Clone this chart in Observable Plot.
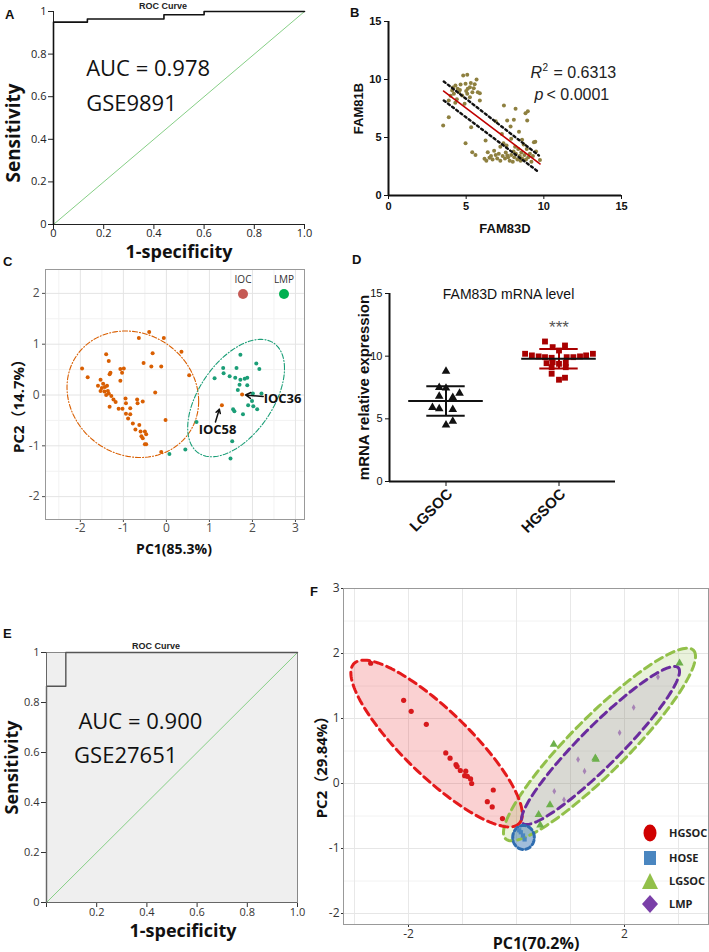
<!DOCTYPE html>
<html><head><meta charset="utf-8">
<script src="https://cdn.jsdelivr.net/npm/d3@7"></script>
<script src="https://cdn.jsdelivr.net/npm/@observablehq/plot@0.6"></script>
<style>
body{margin:0;background:#fff;}
#root{position:relative;width:709px;height:952px;overflow:hidden;background:#fff;font-family:"Liberation Sans",Arial,sans-serif;}
.panel{position:absolute;}
.panel svg{overflow:visible;}
.letter{position:absolute;font:bold 13px "Liberation Sans",Arial,sans-serif;line-height:13px;color:#111;}
.lg{position:absolute;white-space:nowrap;}
</style></head><body><div id="root"></div>
<script>
// ---------------- DATA ----------------
// Panel A (ROC, GSE9891)
const rocA_fpr = [0, 0, 0.135, 0.44, 0.6, 1];
const rocA_tpr = [0, 0.95, 0.965, 0.985, 1, 1];
const diagLine = [0, 1];
const rocTicks = [0, 0.2, 0.4, 0.6, 0.8, 1];
const aucA_text = ["AUC = 0.978", "GSE9891"];
const aucA_x = [0.13, 0.13];
const aucA_y = [0.695, 0.535];

// Panel B (FAM83D vs FAM81B)
const bTicks = [0, 5, 10, 15];
const bPoints = [
 [4.81,10.34],[5.07,10.4],[5.67,10.0],[4.31,9.48],[4.64,9.57],[4.96,9.63],[5.24,9.34],[5.49,9.25],[5.75,8.9],[5.88,8.82],
 [4.1,9.05],[4.21,8.77],[4.53,8.9],[4.74,8.62],[5.07,8.77],[5.24,8.47],[5.88,8.19],[3.88,8.19],[4.0,8.6],[4.4,8.3],
 [4.6,9.1],[5.1,9.2],[5.4,8.9],[4.3,8.0],[4.9,7.9],[5.0,9.0],[4.15,9.3],[5.55,9.6],[4.45,9.2],[5.3,9.7],
 [3.52,6.03],[3.88,6.75],[4.96,4.51],[5.39,3.73],[5.6,3.5],[5.32,5.89],[6.25,4.74],
 [7.43,7.76],[8.18,7.47],[8.82,7.1],[8.97,7.27],[7.64,6.47],[8.07,6.52],[8.93,6.47],[7.86,5.95],[6.9,6.4],
 [7.3,5.3],[8.4,5.5],[9.36,4.6],[9.45,4.64],[7.2,4.2],[8.6,4.8],[7.9,4.9],
 [6.18,3.16],[6.39,3.73],[6.3,3.0],[6.6,3.4],[6.7,3.1],[6.9,3.5],[7.0,3.2],[7.1,3.6],[7.2,3.0],[7.35,3.4],
 [7.5,3.2],[7.55,3.7],[7.6,4.3],[7.7,3.3],[7.8,3.0],[7.9,3.5],[8.0,2.9],[8.05,3.8],[8.1,3.3],[8.2,3.6],
 [8.3,3.1],[8.35,4.0],[8.45,3.4],[8.5,3.0],[8.55,3.7],[8.6,3.2],[8.7,4.4],[8.75,3.5],[8.85,3.1],[8.9,4.0],
 [9.0,3.3],[9.1,3.6],[9.2,2.9],[9.3,3.4],[9.75,3.07],[9.5,3.8],[6.8,3.85],[7.4,4.5],[8.15,4.2],[6.5,3.25],[7.65,3.45]
];
const bFitX = [3.55, 9.75];
const bFitY = [9.0, 2.72];
const bCiUpperY = [9.83, 3.45];
const bCiLowerY = [8.19, 2.01];
const bCiX = [3.56, 9.68];

// Panel C (PCA IOC vs LMP)
const cTicksX = [-2, -1, 0, 1, 2, 3];
const cTicksY = [-2, -1, 0, 1, 2];
const cMinorX = [-2.5, -1.5, -0.5, 0.5, 1.5, 2.5];
const cMinorY = [-1.5, -0.5, 0.5, 1.5];
const cIOC = [
 [-1.96,0.52],[-1.83,0.35],[-1.40,0.80],[-1.34,0.67],[-1.53,0.30],[-1.59,0.18],[-1.50,0.14],[-1.43,0.16],[-1.38,0.18],
 [-1.53,0.08],[-1.44,0.07],[-1.36,0.08],[-1.40,0.0],[-1.34,0.03],[-1.32,0.41],[-1.30,0.44],[-1.28,-0.02],[-1.23,-0.09],
 [-1.32,-0.23],[-1.07,0.51],[-0.99,0.52],[-1.03,0.44],[-1.07,0.28],[-0.95,-0.07],[-0.94,-0.16],[-1.11,-0.27],[-1.02,-0.27],
 [-0.84,-0.26],[-0.68,-0.09],[-0.67,-0.16],[-0.55,-0.13],[-0.94,-0.37],[-0.84,-0.38],[-0.89,-0.46],[-0.78,-0.56],
 [-0.63,-0.59],[-0.72,-0.68],[-0.60,-0.72],[-0.50,-0.72],[-0.58,-0.81],[-0.47,-0.77],[-0.50,-0.97],[-0.47,-0.97],
 [-0.02,-0.49],[-0.26,0.05],[-0.53,0.63],[-0.35,0.56],[-0.12,0.56],[-0.32,0.82],[-0.64,1.12],[-0.40,1.24],[-0.06,1.12],
 [0.35,0.85],[0.53,0.39],[-0.12,-1.12],[1.76,0.01],[1.29,-0.20],[-1.47,0.22],[-1.18,-0.14],[-0.55,-0.85]
];
const cLMP = [
 [1.72,0.79],[2.09,0.62],[2.16,0.51],[1.32,0.53],[1.63,0.53],[1.33,0.43],[1.47,0.37],[1.12,0.33],[1.60,0.34],[1.72,0.30],
 [1.82,0.32],[1.88,0.34],[1.70,0.20],[1.88,0.19],[1.66,0.10],[2.01,0.03],[2.21,0.03],[1.99,-0.12],[1.90,-0.20],[2.02,-0.22],
 [2.11,-0.28],[1.55,-0.28],[1.58,-0.32],[1.78,-0.38],[1.53,-0.91],[1.49,-1.25],[0.70,-0.53],[0.44,-1.07],[0.07,-1.16]
];
const cEllipses = [
 {group:"IOC", cx:-0.78, cy:0.015, ux:1.53, uy:-0.137, vx:0, vy:1.237},
 {group:"LMP", cx:1.62, cy:-0.06, ux:1.125, uy:0.585, vx:0, vy:0.996}
];
const cArrows = [
 {label:"IOC36", x1:2.25, y1:-0.03, x2:1.84, y2:0.0, tx:2.26, ty:-0.085},
 {label:"IOC58", x1:1.14, y1:-0.53, x2:1.23, y2:-0.28, tx:0.75, ty:-0.68}
];
const cLegend = ["IOC", "LMP"];
const cLegendColors = ["#C55A55", "#00B050"];

// Panel D (FAM83D mRNA level)
const dGroups = ["LGSOC", "HGSOC"];
const lgsocVals = [8.8, 7.5, 7.45, 7.05, 6.8, 6.7, 5.9, 5.8, 5.75, 4.8, 4.5];
const lgsocJit  = [0, -0.06, 0, 0.12, -0.06, 0.06, -0.12, -0.06, 0.06, 0.06, 0];
const hgsocVals = [11.17,10.72,10.85,10.45,10.19,10.06,9.98,9.92,9.87,9.92,9.92,9.98,10.06,10.19,9.44,9.52,9.39,9.47,9.12,9.12,8.6,8.12,8.28];
const hgsocJit  = [-0.124,-0.056,0.053,0,-0.30,-0.24,-0.18,-0.124,-0.065,0.068,0.127,0.186,0.24,0.30,-0.11,-0.056,0,0.06,-0.065,0.06,-0.065,0,0.053];
const dMean = [6.42, 9.8];
const dSD = [1.17, 0.78];
const dTicks = [0, 5, 10, 15];
const dSignif = ["***"];
const dSignifY = [12.3];

// Panel E (ROC, GSE27651)
const rocE_fpr = [0, 0, 0.077, 1];
const rocE_tpr = [0, 0.865, 1, 1];
const aucE_text = ["AUC = 0.900", "GSE27651"];
const aucE_x = [0.127, 0.11];
const aucE_y = [0.696, 0.56];

// Panel F (PCA four groups)
const fTicksX = [-2, 2];
const fGridX = [-3, -2, -1, 0, 1, 2, 3];
const fTicksY = [-2, -1, 0, 1, 2, 3];
const fMinorY = [-1.5, -0.5, 0.5, 1.5, 2.5];
const fHGSOC = [[-2.70,1.85],[-2.09,1.28],[-1.95,1.11],[-1.67,0.91],[-1.31,0.47],[-1.23,0.39],[-1.12,0.29],[-1.10,0.26],
 [-1.04,0.20],[-0.94,0.19],[-0.96,0.12],[-0.91,0.11],[-0.85,0.07],[-0.83,0.0],[-0.43,-0.10],[-0.54,-0.28],[-0.45,-0.36],[-0.26,-0.54]];
const fHOSE = [[0.08,-0.75],[0.12,-0.80],[0.05,-0.72],[0.15,-0.86]];
const fLGSOC = [[3.02,1.85],[0.69,0.60],[1.46,0.39],[1.47,0.37],[0.62,-0.33],[0.41,-0.48],[0.44,-0.64]];
const fLMP = [[2.62,1.64],[2.17,1.17],[1.91,0.78],[1.14,0.37],[1.26,0.19],[0.70,-0.12],[0.88,-0.25]];
const fEllipses = [
 {group:"HGSOC", cx:-1.48, cy:0.615, ux:1.53, uy:-1.23, vx:0.425, vy:0.365},
 {group:"LGSOC", cx:1.537, cy:0.6, ux:1.74, uy:1.45, vx:0.367, vy:-0.305},
 {group:"LMP",   cx:1.556, cy:0.585, ux:1.44, uy:1.197, vx:0.262, vy:-0.218},
 {group:"HOSE",  cx:0.13, cy:-0.83, ux:0.2, uy:0, vx:0, vy:0.185}
];
const fGroups = ["HGSOC", "HOSE", "LGSOC", "LMP"];
const fColors = {HGSOC:"#E41A1C", HOSE:"#2F6DB0", LGSOC:"#92C04A", LMP:"#6A2C9E"};

// ---------------- HELPERS ----------------
const root = document.getElementById("root");
function place(el, left, top){ const d=document.createElement("div"); d.className="panel"; d.style.left=left+"px"; d.style.top=top+"px"; d.appendChild(el); root.appendChild(d); }
function letter(t, left, top){ const d=document.createElement("div"); d.className="letter"; d.textContent=t; d.style.left=left+"px"; d.style.top=top+"px"; root.appendChild(d); }
function ellipsePts(e, n=160){ const p=[]; for(let i=0;i<=n;i++){ const t=2*Math.PI*i/n; p.push({x:e.cx+Math.cos(t)*e.ux+Math.sin(t)*e.vx, y:e.cy+Math.cos(t)*e.uy+Math.sin(t)*e.vy}); } return p; }
const fontCal = "'Open Sans','Noto Sans','Noto Sans CJK SC',sans-serif";
const fontAr = "'Liberation Sans',Arial,sans-serif";
const T = d => d;

// ---------------- PANEL A ----------------
const A = Plot.plot({
  width:320, height:262, marginLeft:53, marginRight:16, marginTop:11, marginBottom:38,
  style:{background:"transparent", overflow:"visible", fontFamily:fontCal, fontSize:"11px", color:"#222"},
  x:{domain:[0,1], ticks:rocTicks, tickFormat:d=>d===0?"0":d===1?"1.0":String(d), tickSize:5, tickPadding:0, label:null},
  y:{domain:[0,1], ticks:rocTicks, tickFormat:d=>String(d), tickSize:5, tickPadding:2, label:null},
  marks:[
    Plot.ruleX([0],{stroke:"#222"}), Plot.ruleY([0],{stroke:"#222"}),
    Plot.line(diagLine,{x:T, y:T, stroke:"#86CF86", strokeWidth:1}),
    Plot.line(rocA_fpr,{x:T, y:(d,i)=>rocA_tpr[i], curve:"step-after", stroke:"#111", strokeWidth:1.6}),
    Plot.text(aucA_text,{x:(d,i)=>aucA_x[i], y:(d,i)=>aucA_y[i], text:T, textAnchor:"start", lineAnchor:"bottom", fontSize:22, fill:"#111"}),
    Plot.text(["ROC Curve"],{frameAnchor:"top", dx:-16, dy:-3, text:T, textAnchor:"middle", lineAnchor:"bottom", fontSize:9, fontWeight:"bold", fontFamily:fontAr, fill:"#222"}),
    Plot.text(["Sensitivity"],{frameAnchor:"left", dx:-40, dy:15, rotate:-90, text:T, textAnchor:"middle", lineAnchor:"middle", fontSize:19, fontWeight:"bold", fill:"#111"}),
    Plot.text(["1-specificity"],{frameAnchor:"bottom", dy:33, text:T, textAnchor:"middle", lineAnchor:"bottom", fontSize:18, fontWeight:"bold", fill:"#111"})
  ]
});
place(A, 0, 0);

// ---------------- PANEL B ----------------
const B = Plot.plot({
  width:379, height:245, marginLeft:58, marginRight:88, marginTop:21, marginBottom:50,
  style:{background:"transparent", overflow:"visible", fontFamily:fontAr, fontSize:"11px", fontWeight:"bold", color:"#111"},
  x:{domain:[0,15], ticks:bTicks, tickSize:4, tickPadding:3, label:null},
  y:{domain:[0,15], ticks:bTicks, tickSize:4, tickPadding:3, label:null},
  marks:[
    Plot.ruleX([0],{stroke:"#111", strokeWidth:2}), Plot.ruleY([0],{stroke:"#111", strokeWidth:2}),
    Plot.dot(bPoints,{x:d=>d[0], y:d=>d[1], r:2, fill:"#8E8040", stroke:"none"}),
    Plot.line(bCiX,{x:T, y:(d,i)=>bCiUpperY[i], stroke:"#111", strokeWidth:2.4, strokeDasharray:"2.2,3"}),
    Plot.line(bCiX,{x:T, y:(d,i)=>bCiLowerY[i], stroke:"#111", strokeWidth:2.4, strokeDasharray:"2.2,3"}),
    Plot.line(bFitX,{x:T, y:(d,i)=>bFitY[i], stroke:"#C00000", strokeWidth:1.6}),
    Plot.text(["R"],{x:[9.14], y:[10.17], text:T, textAnchor:"start", lineAnchor:"bottom", fontSize:16, fontStyle:"italic", fontWeight:"normal", fill:"#222"}),
    Plot.text(["2"],{x:[9.14], y:[10.17], dx:12, dy:-7, text:T, textAnchor:"start", lineAnchor:"bottom", fontSize:10, fontWeight:"normal", fill:"#222"}),
    Plot.text(["= 0.6313"],{x:[9.14], y:[10.17], dx:23, text:T, textAnchor:"start", lineAnchor:"bottom", fontSize:16, fontWeight:"normal", fill:"#222"}),
    Plot.text(["p"],{x:[9.40], y:[8.19], text:T, textAnchor:"start", lineAnchor:"bottom", fontSize:16, fontStyle:"italic", fontWeight:"normal", fill:"#222"}),
    Plot.text(["< 0.0001"],{x:[9.40], y:[8.19], dx:12, text:T, textAnchor:"start", lineAnchor:"bottom", fontSize:16, fontWeight:"normal", fill:"#222"}),
    Plot.text(["FAM83D"],{frameAnchor:"bottom", dy:37, text:T, textAnchor:"middle", lineAnchor:"bottom", fontSize:13, fontWeight:"bold"}),
    Plot.text(["FAM81B"],{frameAnchor:"left", dx:-30, rotate:-90, text:T, textAnchor:"middle", lineAnchor:"middle", fontSize:13, fontWeight:"bold"})
  ]
});
place(B, 330, 0);

// ---------------- PANEL C ----------------
const cEll = cEllipses.map(e => ({group:e.group, pts:ellipsePts(e)}));
const C = Plot.plot({
  width:320, height:300, marginLeft:45, marginRight:16, marginTop:9, marginBottom:41,
  style:{background:"transparent", overflow:"visible", fontFamily:fontCal, fontSize:"12px", color:"#4d4d4d"},
  x:{domain:[-2.81,3.21], ticks:cTicksX, tickFormat:d=>String(d), tickSize:3, tickPadding:1, label:null},
  y:{domain:[-2.45,2.47], ticks:cTicksY, tickFormat:d=>String(d), tickSize:3, tickPadding:3, label:null},
  marks:[
    Plot.ruleX(cMinorX,{stroke:"#f2f2f2"}), Plot.ruleY(cMinorY,{stroke:"#f2f2f2"}),
    Plot.ruleX(cTicksX,{stroke:"#e4e4e4"}), Plot.ruleY(cTicksY,{stroke:"#e4e4e4"}),
    Plot.frame({stroke:"#999"}),
    Plot.line(cEll[0].pts,{x:"x", y:"y", stroke:"#D95F02", strokeWidth:1.1, strokeDasharray:"5,2,1,2"}),
    Plot.line(cEll[1].pts,{x:"x", y:"y", stroke:"#1B9E77", strokeWidth:1.1, strokeDasharray:"5,2,1,2"}),
    Plot.dot(cIOC,{x:d=>d[0], y:d=>d[1], r:2, fill:"#D95F02", stroke:"none"}),
    Plot.dot(cLMP,{x:d=>d[0], y:d=>d[1], r:2, fill:"#1B9E77", stroke:"none"}),
    Plot.arrow(cArrows,{x1:"x1", y1:"y1", x2:"x2", y2:"y2", stroke:"#111", strokeWidth:1.5, headLength:7}),
    Plot.text(cArrows,{x:"tx", y:"ty", text:"label", textAnchor:"start", lineAnchor:"middle", fontSize:13, fontWeight:"bold", fill:"#111"}),
    Plot.text(["PC2\uFF0814.7%\uFF09"],{frameAnchor:"left", dx:-26, dy:8, rotate:-90, text:T, textAnchor:"middle", lineAnchor:"middle", fontSize:15, fontWeight:"bold", fill:"#111"}),
    Plot.text(["PC1(85.3%)"],{frameAnchor:"bottom", dx:-1, dy:34, text:T, textAnchor:"middle", lineAnchor:"bottom", fontSize:14, fontWeight:"bold", fill:"#111"})
  ]
});
place(C, 0, 260);
// C legend
cLegend.forEach((g,i)=>{
  const cx = [243, 284][i];
  const t=document.createElement("div"); t.className="lg"; t.textContent=g;
  t.style.cssText += `left:${cx-20}px;top:272px;width:40px;text-align:center;font:10px ${fontCal};color:#333;`;
  root.appendChild(t);
  const c=document.createElement("div"); c.className="lg";
  c.style.cssText += `left:${cx-5}px;top:289px;width:10px;height:10px;border-radius:50%;background:${cLegendColors[i]};`;
  root.appendChild(c);
});

// ---------------- PANEL D ----------------
const capW = 0.17, meanW = 0.33;
const D = Plot.plot({
  width:379, height:300, marginLeft:59, marginRight:94, marginTop:43, marginBottom:69,
  style:{background:"transparent", overflow:"visible", fontFamily:fontAr, fontSize:"11px", color:"#111"},
  x:{domain:[0.5,2.5], ticks:[1,2], tickFormat:()=>"", tickSize:5, label:null},
  y:{domain:[0,15], ticks:dTicks, tickSize:4, tickPadding:3, label:null},
  marks:[
    Plot.ruleX([0.5],{stroke:"#111", strokeWidth:2}), Plot.ruleY([0],{stroke:"#111", strokeWidth:2}),
    Plot.dot(lgsocVals,{x:(d,i)=>1+lgsocJit[i], y:T, symbol:"triangle", r:3.2, fill:"#111", stroke:"none"}),
    Plot.dot(hgsocVals,{x:(d,i)=>2+hgsocJit[i], y:T, symbol:"square", r:3.3, fill:"#A80000", stroke:"none"}),
    Plot.ruleX([1],{y1:dMean[0]-dSD[0], y2:dMean[0]+dSD[0], stroke:"#111", strokeWidth:2}),
    Plot.ruleY([dMean[0]-dSD[0], dMean[0]+dSD[0]],{x1:1-capW, x2:1+capW, stroke:"#111", strokeWidth:2}),
    Plot.ruleY([dMean[0]],{x1:1-meanW, x2:1+meanW, stroke:"#111", strokeWidth:2}),
    Plot.ruleX([2],{y1:dMean[1]-dSD[1], y2:dMean[1]+dSD[1], stroke:"#A80000", strokeWidth:2}),
    Plot.ruleY([dMean[1]-dSD[1], dMean[1]+dSD[1]],{x1:2-capW, x2:2+capW, stroke:"#A80000", strokeWidth:2}),
    Plot.ruleY([dMean[1]],{x1:2-meanW, x2:2+meanW, stroke:"#111", strokeWidth:2}),
    Plot.text(dSignif,{x:[2], y:dSignifY, text:T, fontSize:17, fill:"#555", lineAnchor:"middle"}),
    Plot.text(dGroups,{x:(d,i)=>i+1, frameAnchor:"bottom", dx:4, dy:10, rotate:-45, text:T, textAnchor:"end", lineAnchor:"middle", fontSize:15, fontWeight:"bold"}),
    Plot.text(["FAM83D mRNA level"],{frameAnchor:"top", dx:6, dy:5, text:T, textAnchor:"middle", lineAnchor:"bottom", fontSize:14}),
    Plot.text(["mRNA relative expression"],{frameAnchor:"left", dx:-25, rotate:-90, text:T, textAnchor:"middle", lineAnchor:"middle", fontSize:15, fontWeight:"bold"})
  ]
});
place(D, 330, 250);

// ---------------- PANEL E ----------------
const E = Plot.plot({
  width:320, height:352, marginLeft:46, marginRight:23, marginTop:52, marginBottom:50,
  style:{background:"transparent", overflow:"visible", fontFamily:fontCal, fontSize:"11px", color:"#333"},
  x:{domain:[0,1], ticks:rocTicks, tickFormat:d=>d===0?"":d===1?"1.0":String(d), tickSize:5, tickPadding:1, label:null},
  y:{domain:[0,1], ticks:rocTicks, tickFormat:d=>String(d), tickSize:5, tickPadding:2, label:null},
  marks:[
    Plot.frame({fill:"#EFEFEF", stroke:"#888"}),
    Plot.line(diagLine,{x:T, y:T, stroke:"#86CF86", strokeWidth:1}),
    Plot.line(rocE_fpr,{x:T, y:(d,i)=>rocE_tpr[i], curve:"step-after", stroke:"#555", strokeWidth:1.4}),
    Plot.ruleX([0],{stroke:"#666"}), Plot.ruleY([0],{stroke:"#666"}),
    Plot.text(aucE_text,{x:(d,i)=>aucE_x[i], y:(d,i)=>aucE_y[i], text:T, textAnchor:"start", lineAnchor:"bottom", fontSize:22, fill:"#111"}),
    Plot.text(["ROC Curve"],{frameAnchor:"top", dx:-16, dy:-4, text:T, textAnchor:"middle", lineAnchor:"bottom", fontSize:9, fontWeight:"bold", fontFamily:fontAr, fill:"#222"}),
    Plot.text(["Sensitivity"],{frameAnchor:"left", dx:-34, dy:-10, rotate:-90, text:T, textAnchor:"middle", lineAnchor:"middle", fontSize:18, fontWeight:"bold", fill:"#111"}),
    Plot.text(["1-specificity"],{frameAnchor:"bottom", dx:11, dy:34, text:T, textAnchor:"middle", lineAnchor:"bottom", fontSize:18, fontWeight:"bold", fill:"#111"})
  ]
});
place(E, 0, 600);

// ---------------- PANEL F ----------------
const fEll = {}; fEllipses.forEach(e => fEll[e.group] = ellipsePts(e));
const fOpacity = {HGSOC:0.2, LGSOC:0.2, LMP:0.12, HOSE:0.45};
const fillMark = g => Plot.line(fEll[g],{x:"x", y:"y", fill:fColors[g], fillOpacity:fOpacity[g], stroke:"none"});
const lineMark = g => Plot.line(fEll[g],{x:"x", y:"y", stroke:fColors[g], strokeWidth:3, strokeDasharray:g==="HOSE"?"5,3":"8,5"});
const F = Plot.plot({
  width:379, height:377, marginLeft:13, marginRight:1, marginTop:13, marginBottom:28,
  style:{background:"transparent", overflow:"visible", fontFamily:fontCal, fontSize:"12px", color:"#333"},
  x:{domain:[-3.204,3.556], ticks:fTicksX, tickFormat:d=>String(d), tickSize:3, tickPadding:2, label:null},
  y:{domain:[-2.169,3.0], ticks:fTicksY, tickFormat:d=>String(d), tickSize:2, tickPadding:2, label:null},
  marks:[
    Plot.ruleY(fMinorY,{stroke:"#f2f2f2"}),
    Plot.ruleX(fGridX,{stroke:"#e8e8e8"}), Plot.ruleY(fTicksY,{stroke:"#e6e6e6"}),
    Plot.frame({stroke:"#999"}),
    fillMark("HGSOC"), fillMark("LGSOC"), fillMark("LMP"), fillMark("HOSE"),
    lineMark("LGSOC"), lineMark("HGSOC"), lineMark("LMP"), lineMark("HOSE"),
    Plot.dot(fHGSOC,{x:d=>d[0], y:d=>d[1], r:2.6, fill:"#D7191C", stroke:"none"}),
    Plot.dot(fHOSE,{x:d=>d[0], y:d=>d[1], symbol:"square", r:2.4, fill:"#4A86C0", stroke:"none"}),
    Plot.dot(fLGSOC,{x:d=>d[0], y:d=>d[1], symbol:"triangle", r:3, fill:"#6DB04C", stroke:"none"}),
    Plot.dot(fLMP,{x:d=>d[0], y:d=>d[1], symbol:"diamond", r:2, fill:"#A784B5", stroke:"none"}),
    Plot.text(["PC2\uFF0829.84%\uFF09"],{frameAnchor:"left", dx:-21, dy:7, rotate:-90, text:T, textAnchor:"middle", lineAnchor:"middle", fontSize:15, fontWeight:"bold", fill:"#111"}),
    Plot.text(["PC1(70.2%)"],{frameAnchor:"bottom", dx:10, dy:24, text:T, textAnchor:"middle", lineAnchor:"bottom", fontSize:16, fontWeight:"bold", fill:"#111"})
  ]
});
place(F, 330, 575);
// F legend
const legY = [833, 858, 881, 904];
const legShapes = {
  HGSOC:`<ellipse cx="9" cy="10" rx="6.5" ry="8.5" fill="#D00000"/>`,
  HOSE:`<rect x="3" y="3" width="12" height="14" fill="#4A86C0"/>`,
  LGSOC:`<polygon points="9,2 17,18 1,18" fill="#92C04A"/>`,
  LMP:`<polygon points="9,1 17,10 9,19 1,10" fill="#7A3FA8"/>`
};
fGroups.forEach((g,i)=>{
  const s=document.createElement("div"); s.className="lg";
  s.style.cssText += `left:641px;top:${legY[i]-10}px;width:18px;height:20px;`;
  s.innerHTML = `<svg width="18" height="20" style="display:block">${legShapes[g]}</svg>`;
  root.appendChild(s);
  const t=document.createElement("div"); t.className="lg"; t.textContent=g;
  t.style.cssText += `left:669px;top:${legY[i]-8}px;font:bold 11px ${fontCal};color:#222;line-height:16px;`;
  root.appendChild(t);
});

// panel letters
letter("A", 5, 8); letter("B", 350, 6); letter("C", 3, 255); letter("D", 352, 253); letter("E", 3, 627); letter("F", 310, 585);
</script></body></html>
